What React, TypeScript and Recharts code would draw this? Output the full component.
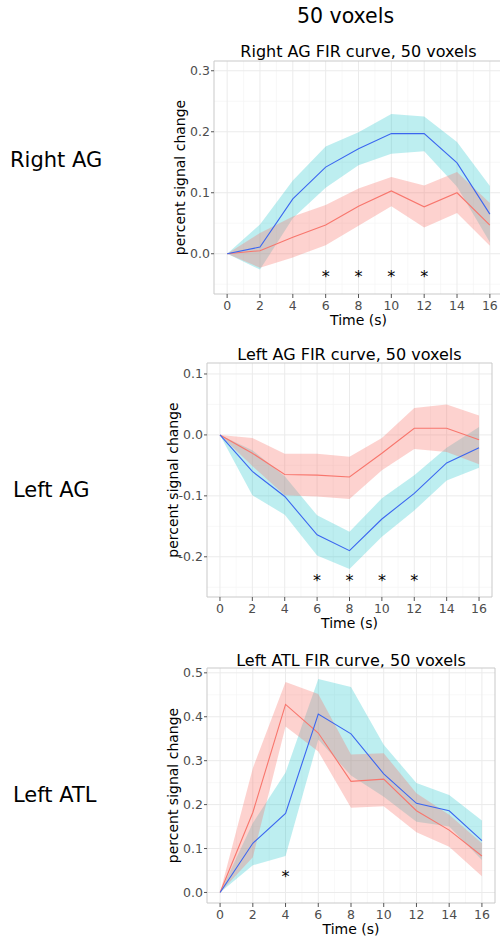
import React from "react";
import {
  ComposedChart,
  Line,
  Area,
  Scatter,
  XAxis,
  YAxis,
  CartesianGrid,
  ReferenceArea,
  Label,
} from "recharts";

const FONT = "'DejaVu Sans', 'Liberation Sans', sans-serif";

// ---------- data ----------
const time = [0, 2, 4, 6, 8, 10, 12, 14, 16];
const xTicks = [0, 2, 4, 6, 8, 10, 12, 14, 16];
const xMinor = [1, 3, 5, 7, 9, 11, 13, 15];
const xDomain: [number, number] = [-0.8, 16.8];

// Right AG
const rightAGRed = [0, 0.005, 0.027, 0.047, 0.078, 0.103, 0.077, 0.1, 0.047];
const rightAGRedLo = [0, -0.023, -0.006, 0.014, 0.046, 0.078, 0.043, 0.067, 0.013];
const rightAGRedHi = [0, 0.034, 0.061, 0.08, 0.107, 0.126, 0.112, 0.134, 0.083];
const rightAGBlue = [0, 0.011, 0.09, 0.142, 0.172, 0.197, 0.197, 0.149, 0.065];
const rightAGBlueLo = [0, -0.026, 0.058, 0.108, 0.145, 0.164, 0.168, 0.11, 0.019];
const rightAGBlueHi = [0, 0.048, 0.12, 0.176, 0.199, 0.229, 0.225, 0.183, 0.111];
const rightAGStarTimes = [6, 8, 10, 12];
const rightAGStarLevel = -0.031;
const rightAGYTicks = [0, 0.1, 0.2, 0.3];
const rightAGYMinor = [-0.05, 0.05, 0.15, 0.25];
const rightAGYDomain: [number, number] = [-0.066, 0.316];

// Left AG
const leftAGRed = [0, -0.03, -0.065, -0.066, -0.069, -0.03, 0.011, 0.011, -0.008];
const leftAGRedLo = [0, -0.051, -0.099, -0.101, -0.105, -0.058, -0.023, -0.028, -0.048];
const leftAGRedHi = [0, -0.005, -0.031, -0.031, -0.036, -0.005, 0.044, 0.05, 0.032];
const leftAGBlue = [0, -0.06, -0.101, -0.164, -0.19, -0.138, -0.096, -0.046, -0.021];
const leftAGBlueLo = [0, -0.099, -0.131, -0.198, -0.22, -0.167, -0.124, -0.075, -0.054];
const leftAGBlueHi = [0, -0.025, -0.068, -0.132, -0.159, -0.104, -0.066, -0.021, 0.013];
const leftAGStarTimes = [6, 8, 10, 12];
const leftAGStarLevel = -0.233;
const leftAGYTicks = [-0.2, -0.1, 0, 0.1];
const leftAGYMinor = [-0.25, -0.15, -0.05, 0.05];
const leftAGYDomain: [number, number] = [-0.266, 0.118];

// Left ATL
const leftATLRed = [0, 0.182, 0.428, 0.363, 0.253, 0.258, 0.186, 0.142, 0.083];
const leftATLRedLo = [0, 0.08, 0.378, 0.321, 0.193, 0.196, 0.137, 0.104, 0.037];
const leftATLRedHi = [0, 0.283, 0.479, 0.452, 0.314, 0.317, 0.226, 0.177, 0.112];
const leftATLBlue = [0, 0.112, 0.18, 0.406, 0.361, 0.27, 0.203, 0.186, 0.118];
const leftATLBlueLo = [0, 0.062, 0.083, 0.348, 0.266, 0.218, 0.161, 0.15, 0.074];
const leftATLBlueHi = [0, 0.158, 0.273, 0.486, 0.468, 0.336, 0.249, 0.222, 0.164];
const leftATLStarTimes = [4];
const leftATLStarLevel = 0.045;
const leftATLYTicks = [0, 0.1, 0.2, 0.3, 0.4, 0.5];
const leftATLYMinor = [0.05, 0.15, 0.25, 0.35, 0.45];
const leftATLYDomain: [number, number] = [-0.024, 0.511];

const mainTitle = "50 voxels";
const rowLabels = ["Right AG", "Left AG", "Left ATL"];
const panelTitles = [
  "Right AG FIR curve, 50 voxels",
  "Left AG FIR curve, 50 voxels",
  "Left ATL FIR curve, 50 voxels",
];

// ---------- styles ----------
const RED = "#F8766D";
const CYAN = "#00BFC4";
const BLUE_LINE = "#3b66f0";
const GRID_MAJOR = "#ebebeb";
const GRID_MINOR = "#f5f5f5";
const BORDER = "#c9c9c9";
const TICK_TEXT = "#4d4d4d";

function buildRows(
  red: number[], redLo: number[], redHi: number[],
  blue: number[], blueLo: number[], blueHi: number[]
) {
  return time.map((t, i) => ({
    t,
    red: red[i],
    blue: blue[i],
    redBand: [redLo[i], redHi[i]],
    blueBand: [blueLo[i], blueHi[i]],
  }));
}

type PanelProps = {
  plotLeft: number;
  plotTop: number;
  plotW: number;
  plotH: number;
  rows: any[];
  stars: { t: number; y: number }[];
  yDomain: [number, number];
  yTicks: number[];
  yMinor: number[];
};

const Y_AXIS_W = 68;
const TOP_M = 30;
const RIGHT_M = 10;
const X_AXIS_H = 40;

const StarShape = (p: any) => (
  <text
    x={p.cx}
    y={p.cy + 9}
    textAnchor="middle"
    fontSize={16}
    fontFamily={FONT}
    fill="#000"
  >
    *
  </text>
);

function Panel(props: PanelProps) {
  const { plotLeft, plotTop, plotW, plotH, rows, stars, yDomain, yTicks, yMinor } = props;
  const width = Y_AXIS_W + plotW + RIGHT_M;
  const height = TOP_M + plotH + X_AXIS_H;
  return (
    <div style={{ position: "absolute", left: plotLeft - Y_AXIS_W, top: plotTop - TOP_M }}>
      <ComposedChart
        width={width}
        height={height}
        data={rows}
        margin={{ top: TOP_M, right: RIGHT_M, bottom: 0, left: 0 }}
      >
        <CartesianGrid
          stroke={GRID_MINOR}
          strokeWidth={0.7}
          verticalValues={xMinor}
          horizontalValues={yMinor}
        />
        <CartesianGrid
          stroke={GRID_MAJOR}
          strokeWidth={1}
          verticalValues={xTicks}
          horizontalValues={yTicks}
        />
        <XAxis
          dataKey="t"
          type="number"
          domain={xDomain}
          ticks={xTicks}
          allowDataOverflow
          height={X_AXIS_H}
          axisLine={false}
          tickSize={4}
          tickMargin={3}
          tickLine={{ stroke: "#555" }}
          tick={{ fill: TICK_TEXT, fontSize: 12.5, fontFamily: FONT }}
          interval={0}
        >
          <Label
            value="Time (s)"
            position="center"
            dy={6}
            style={{ fontSize: 14, fontFamily: FONT, fill: "#000" }}
          />
        </XAxis>
        <YAxis
          type="number"
          domain={yDomain}
          ticks={yTicks}
          allowDataOverflow
          width={Y_AXIS_W}
          axisLine={false}
          tickSize={3}
          tickMargin={1}
          tickLine={{ stroke: "#555" }}
          tick={{ fill: TICK_TEXT, fontSize: 12.5, fontFamily: FONT }}
          tickFormatter={(v: number) => v.toFixed(1)}
          interval={0}
        >
          <Label
            value="percent signal change"
            position="center"
            angle={-90}
            style={{ fontSize: 14, fontFamily: FONT, fill: "#000", textAnchor: "middle" }}
          />
        </YAxis>
        <Line
          dataKey="red"
          type="linear"
          stroke={RED}
          strokeWidth={1.1}
          dot={false}
          isAnimationActive={false}
        />
        <Line
          dataKey="blue"
          type="linear"
          stroke={BLUE_LINE}
          strokeWidth={1.1}
          dot={false}
          isAnimationActive={false}
        />
        <Area
          dataKey="blueBand"
          type="linear"
          stroke="none"
          fill={CYAN}
          fillOpacity={0.26}
          isAnimationActive={false}
        />
        <Area
          dataKey="redBand"
          type="linear"
          stroke="none"
          fill={RED}
          fillOpacity={0.33}
          isAnimationActive={false}
        />
        <Scatter
          data={stars}
          dataKey="y"
          shape={StarShape}
          isAnimationActive={false}
        />
        <ReferenceArea
          x1={xDomain[0]}
          x2={xDomain[1]}
          y1={yDomain[0]}
          y2={yDomain[1]}
          fill="none"
          stroke={BORDER}
          strokeWidth={1}
          ifOverflow="visible"
        />
      </ComposedChart>
    </div>
  );
}

const panels = [
  {
    plotLeft: 214, plotTop: 61, plotW: 289, plotH: 233, titleBaseline: 57, labelBaseline: 167, labelX: 10,
    rows: buildRows(rightAGRed, rightAGRedLo, rightAGRedHi, rightAGBlue, rightAGBlueLo, rightAGBlueHi),
    stars: rightAGStarTimes.map((t) => ({ t, y: rightAGStarLevel })),
    yDomain: rightAGYDomain, yTicks: rightAGYTicks, yMinor: rightAGYMinor,
  },
  {
    plotLeft: 207, plotTop: 363, plotW: 285, plotH: 234, titleBaseline: 360, labelBaseline: 497, labelX: 13,
    rows: buildRows(leftAGRed, leftAGRedLo, leftAGRedHi, leftAGBlue, leftAGBlueLo, leftAGBlueHi),
    stars: leftAGStarTimes.map((t) => ({ t, y: leftAGStarLevel })),
    yDomain: leftAGYDomain, yTicks: leftAGYTicks, yMinor: leftAGYMinor,
  },
  {
    plotLeft: 207, plotTop: 668, plotW: 288, plotH: 235, titleBaseline: 666, labelBaseline: 802, labelX: 13,
    rows: buildRows(leftATLRed, leftATLRedLo, leftATLRedHi, leftATLBlue, leftATLBlueLo, leftATLBlueHi),
    stars: leftATLStarTimes.map((t) => ({ t, y: leftATLStarLevel })),
    yDomain: leftATLYDomain, yTicks: leftATLYTicks, yMinor: leftATLYMinor,
  },
];

export default function App() {
  return (
    <div
      style={{
        position: "absolute",
        left: 0,
        top: 0,
        width: 500,
        height: 941,
        overflow: "hidden",
        background: "#fff",
        fontFamily: FONT,
      }}
    >
      <svg
        width={500}
        height={941}
        style={{ position: "absolute", left: 0, top: 0 }}
      >
        <text x={345.5} y={23} textAnchor="middle" fontSize={20.5} fontFamily={FONT} fill="#000">
          {mainTitle}
        </text>
        {panels.map((p, i) => (
          <g key={i}>
            <text x={p.labelX} y={p.labelBaseline} fontSize={21} fontFamily={FONT} fill="#000">
              {rowLabels[i]}
            </text>
            <text
              x={p.plotLeft + p.plotW / 2}
              y={p.titleBaseline}
              textAnchor="middle"
              fontSize={16}
              fontFamily={FONT}
              fill="#000"
            >
              {panelTitles[i]}
            </text>
          </g>
        ))}
      </svg>
      {panels.map((p, i) => (
        <Panel
          key={i}
          plotLeft={p.plotLeft}
          plotTop={p.plotTop}
          plotW={p.plotW}
          plotH={p.plotH}
          rows={p.rows}
          stars={p.stars}
          yDomain={p.yDomain}
          yTicks={p.yTicks}
          yMinor={p.yMinor}
        />
      ))}
    </div>
  );
}
